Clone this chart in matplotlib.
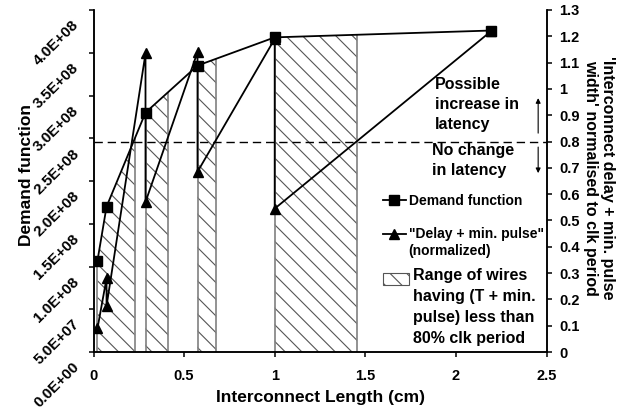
import numpy as np
import matplotlib
matplotlib.use('Agg')
import matplotlib.pyplot as plt
from matplotlib.patches import Patch
from matplotlib.legend_handler import HandlerLine2D, HandlerPatch
from matplotlib.transforms import Affine2D, ScaledTranslation

plt.rcParams['font.family'] = ['Liberation Sans', 'DejaVu Sans']
plt.rcParams['font.weight'] = 'bold'
plt.rcParams['hatch.linewidth'] = 0.8

# ---------------- data ----------------
demand_x = [0.022, 0.072, 0.287, 0.574, 1.0, 2.195]
demand_y = [1.07e8, 1.70e8, 2.80e8, 3.35e8, 3.68e8, 3.76e8]

delay_x = [0.022, 0.072, 0.072, 0.287, 0.287, 0.574, 0.574, 1.0, 1.0, 2.195]
delay_y = [0.09, 0.28, 0.175, 1.135, 0.57, 1.14, 0.685, 1.19, 0.545, 1.22]

ranges = [(0.022, 0.228), (0.287, 0.412), (0.574, 0.677), (1.0, 1.454)]
threshold = 0.8

x_ticks = [0, 0.5, 1, 1.5, 2, 2.5]
x_labels = ['0', '0.5', '1', '1.5', '2', '2.5']
left_ticks = [0, 0.5e8, 1e8, 1.5e8, 2e8, 2.5e8, 3e8, 3.5e8, 4e8]
left_labels = ['0.0E+00', '5.0E+07', '1.0E+08', '1.5E+08', '2.0E+08',
               '2.5E+08', '3.0E+08', '3.5E+08', '4.0E+08']
right_ticks = [i / 10 for i in range(14)]
right_labels = ['0', '0.1', '0.2', '0.3', '0.4', '0.5', '0.6', '0.7', '0.8',
                '0.9', '1', '1.1', '1.2', '1.3']

# annotation positions (data coords of right axis)
up_text_pos = (1.886, 1.045)
down_text_pos = (1.87, 0.795)
arrow_x = 2.454
up_arrow = (0.832, 0.965)
down_arrow = (0.779, 0.68)

HATCH = '\\\\'

# ---------------- figure ----------------
W, H = 629, 413
fig = plt.figure(figsize=(W / 100, H / 100), dpi=100)
L, R, T, B = 93.5, 546.5, 10, 352
ax = fig.add_axes([L / W, 1 - B / H, (R - L) / W, (B - T) / H])
ax2 = ax.twinx()

lw = 1.1
for a in (ax, ax2):
    a.spines['top'].set_visible(False)
    for s in a.spines.values():
        s.set_linewidth(lw)

ax.set_xlim(0, 2.5)
ax.set_ylim(0, 4e8)
ax2.set_ylim(0, 1.3)

# hatched ranges under demand curve
for x0, x1 in ranges:
    inner = [x for x in demand_x if x0 < x < x1]
    xs = np.array([x0] + inner + [x1])
    ys = np.interp(xs, demand_x, demand_y)
    ax.fill_between(xs, 0, ys, facecolor='white', edgecolor='#555555',
                    linewidth=0, hatch=HATCH, zorder=1)
    ax.vlines([x0, x1], 0, np.interp([x0, x1], demand_x, demand_y),
              color='#808080', lw=1.2, zorder=2)

demand_line, = ax.plot(demand_x, demand_y, color='black', lw=1.3,
                       marker='s', markersize=6.5, zorder=3)

ax2.axhline(threshold, color='black', lw=1.0, ls=(0, (6, 3.5)), zorder=2)
delay_line, = ax2.plot(delay_x, delay_y, color='black', lw=1.3,
                       marker='^', markersize=6.5, zorder=3)

# ticks
ax.set_xticks(x_ticks, x_labels, fontsize=10.5)
ax.tick_params(axis='x', direction='out', length=3.6, width=lw, pad=8.6)
ax.set_yticks(left_ticks, left_labels, fontsize=11, rotation=45,
              rotation_mode='anchor', ha='right', va='center')
ax.tick_params(axis='y', direction='out', length=3.6, width=lw, pad=8.5)
for lab in ax.get_yticklabels():
    lab.set_transform(lab.get_transform() +
                      ScaledTranslation(0, -13 / 100, fig.dpi_scale_trans))
ax2.set_yticks(right_ticks, right_labels, fontsize=10.5)
ax2.tick_params(axis='y', direction='out', length=3.6, width=lw, pad=5.8)

# axis labels
ax.set_xlabel('Interconnect Length (cm)', fontsize=12.5, fontweight='bold')
ax.xaxis.set_label_coords(0.501, -0.111)
ax.set_ylabel('Demand function', fontsize=12.5, fontweight='bold')
ax.yaxis.set_label_coords(-0.131, 0.518)
ax2.set_ylabel("'Interconnect delay + min. pulse\nwidth' normalised to clk period",
               fontsize=11.5, fontweight='bold', rotation=-90, va='center',
               ha='center', multialignment='center', linespacing=1.2)
ax2.yaxis.set_label_coords(1.116, 0.509)

# annotations
ax2.text(*up_text_pos, 'Possible\nincrease in\nlatency', fontsize=11.5,
         ha='left', va='top', linespacing=1.4)
ax2.text(*down_text_pos, 'No change\nin latency', fontsize=11.5,
         ha='left', va='top', linespacing=1.4)
arrow_kw = dict(arrowstyle='-|>', lw=0.8, color='black', mutation_scale=7,
                shrinkA=0, shrinkB=0)
ax2.annotate('', xy=(arrow_x, up_arrow[1]), xytext=(arrow_x, up_arrow[0]),
             arrowprops=arrow_kw)
ax2.annotate('', xy=(arrow_x, down_arrow[1]), xytext=(arrow_x, down_arrow[0]),
             arrowprops=arrow_kw)


# legend
class ShiftLine(HandlerLine2D):
    def __init__(self, dy=0, **kw):
        super().__init__(**kw)
        self.dy = dy

    def create_artists(self, legend, orig_handle, xdescent, ydescent, width,
                       height, fontsize, trans):
        t = Affine2D().translate(0, self.dy) + trans
        return super().create_artists(legend, orig_handle, xdescent, ydescent,
                                      width, height, fontsize, t)


class ShiftPatch(HandlerPatch):
    def __init__(self, dy=0, **kw):
        super().__init__(**kw)
        self.dy = dy

    def create_artists(self, legend, orig_handle, xdescent, ydescent, width,
                       height, fontsize, trans):
        t = Affine2D().translate(0, self.dy) + trans
        return super().create_artists(legend, orig_handle, xdescent, ydescent,
                                      width, height, fontsize, t)


common = dict(loc='upper left', bbox_transform=fig.transFigure, frameon=False,
              borderpad=0, borderaxespad=0, handlelength=1.65,
              handletextpad=0.2)

leg1 = ax2.legend(
    [demand_line, delay_line],
    ['Demand function', '"Delay + min. pulse"\n(normalized)'],
    handler_map={demand_line: ShiftLine(0, numpoints=1),
                 delay_line: ShiftLine(6.5, numpoints=1)},
    bbox_to_anchor=(383 / W, 1 - 194 / H), labelspacing=1.35,
    prop={'size': 10, 'weight': 'bold'}, **common)
leg1.get_texts()[1].set_linespacing(1.3)
ax2.add_artist(leg1)

hatch_handle = Patch(facecolor='white', edgecolor='#555555', hatch=HATCH,
                     linewidth=0.8)
leg2 = ax2.legend(
    [hatch_handle],
    ['Range of wires\nhaving (T + min.\npulse) less than\n80% clk period'],
    handler_map={hatch_handle: ShiftPatch(20.5)},
    bbox_to_anchor=(383 / W, 1 - 268 / H),
    prop={'size': 11.5, 'weight': 'bold'}, **common)
leg2.get_texts()[0].set_linespacing(1.5)

fig.savefig('out.png', dpi=100)
